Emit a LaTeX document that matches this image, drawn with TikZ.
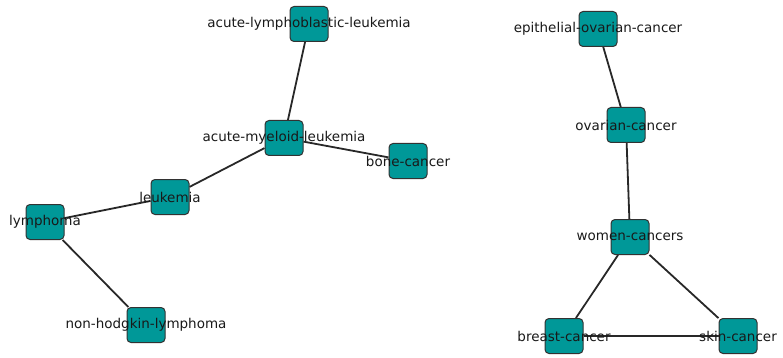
\documentclass[tikz,border=0pt]{standalone}
\usepackage{fontspec}
\setmainfont{DejaVu Sans}
\usepackage{tikz}
\usetikzlibrary{backgrounds}

\definecolor{boxteal}{RGB}{0,152,152}
\definecolor{boxline}{RGB}{50,50,50}
\definecolor{linkgray}{RGB}{40,40,40}

\tikzset{
  disease/.style={draw=boxline, line width=1pt, fill=boxteal, rounded corners=4pt,
    minimum width=38pt, minimum height=35pt, inner sep=0pt},
  lbl/.style={text=black!90, font=\fontsize{13.5}{15}\selectfont, inner sep=0pt},
  link/.style={draw=linkgray, line width=1.8pt}
}

\begin{document}
\begin{tikzpicture}[x=1pt, y=-1pt]

\useasboundingbox (0, 0) rectangle (783, 358);

\foreach \n/\x/\y/\t in {all/309/24/acute-lymphoblastic-leukemia,
  aml/284/138/acute-myeloid-leukemia, bone/408/161/bone-cancer,
  leuk/170/197/leukemia, lymph/45/222/lymphoma,
  nhl/146/325/non-hodgkin-lymphoma,
  epi/598/29/epithelial-ovarian-cancer, ovar/626/125/ovarian-cancer,
  women/630/237/women-cancers, breast/564/336/breast-cancer,
  skin/738/336/skin-cancer}{

\node[disease, label={[lbl]center:\t}] (\n) at (\x, \y) {};

}

\begin{pgfonlayer}{background}
\foreach \a\b in {all/aml, aml/bone, aml/leuk, leuk/lymph, lymph/nhl,
  epi/ovar, ovar/women, women/breast, women/skin, breast/skin}{

\draw[link] (\a) -- (\b);

}
\end{pgfonlayer}

\end{tikzpicture}
\end{document}
